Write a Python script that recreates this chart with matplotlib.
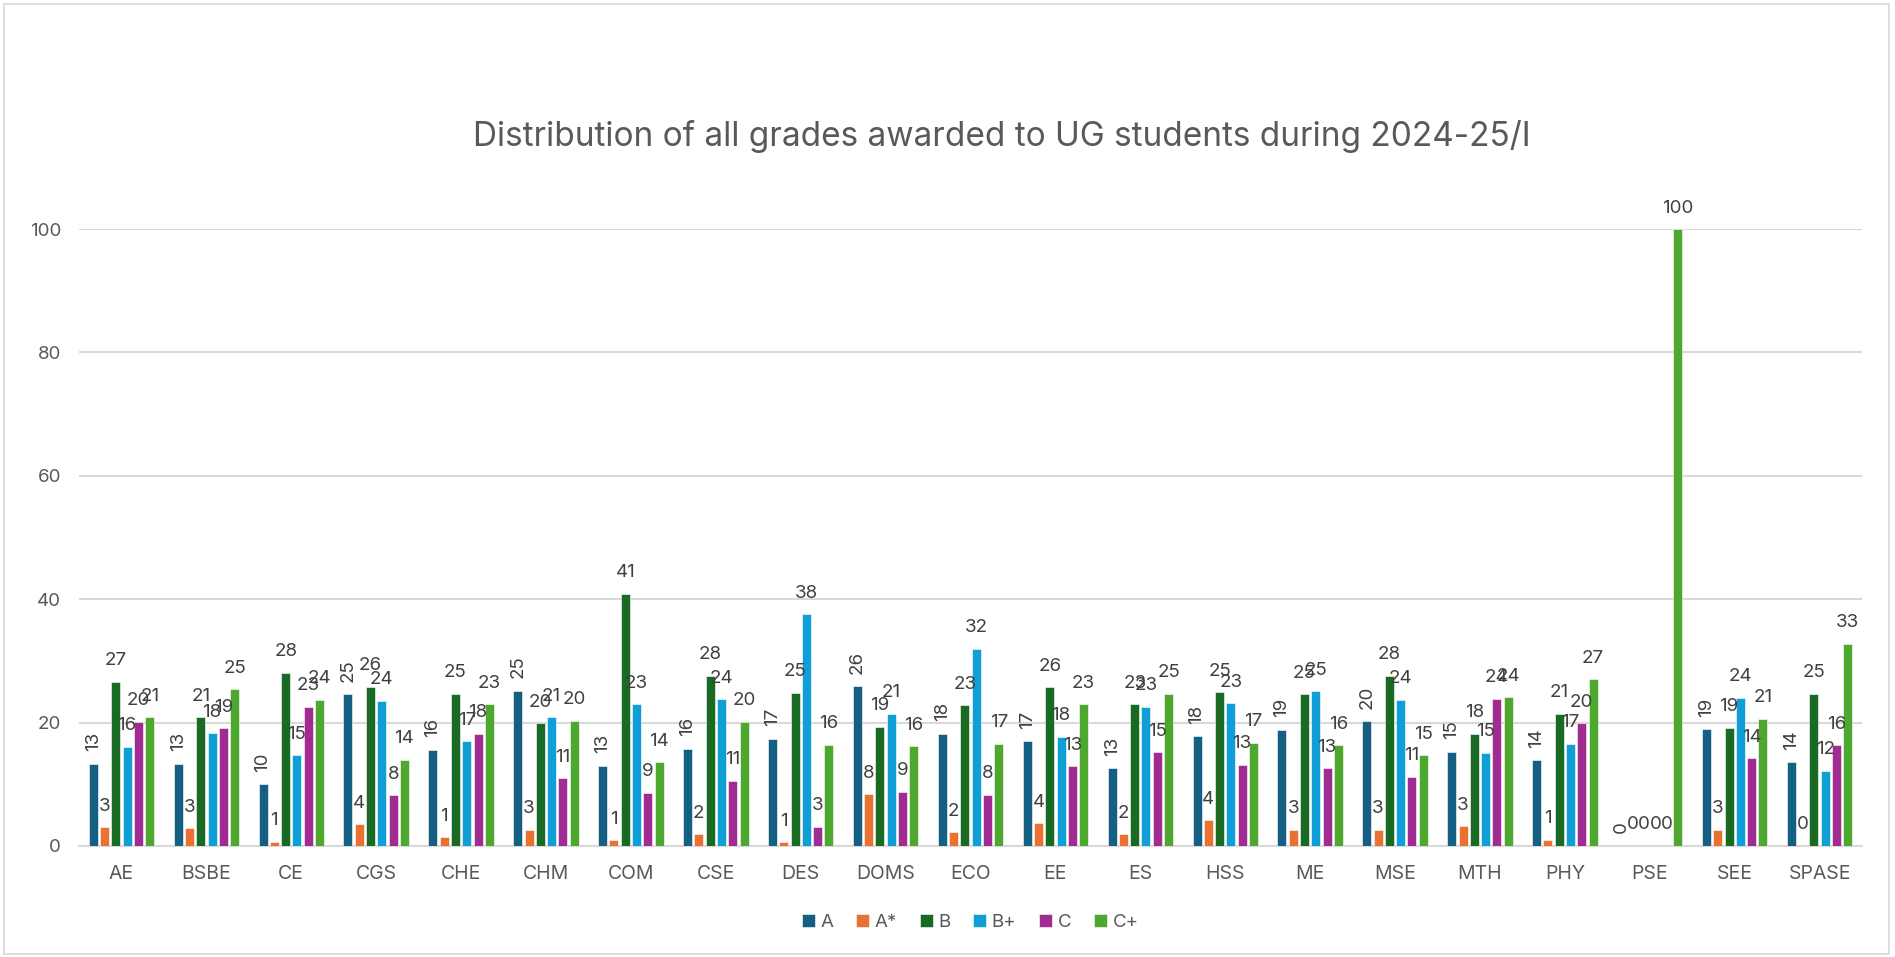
import numpy as np
import matplotlib.pyplot as plt
from matplotlib.patches import Rectangle

# Данные
departments = ["AE", "BSBE", "CE", "CGS", "CHE", "CHM", "COM", "CSE", "DES", "DOMS", "ECO",
               "EE", "ES", "HSS", "ME", "MSE", "MTH", "PHY", "PSE", "SEE", "SPASE"]
grades = ["A", "A*", "B", "B+", "C", "C+"]

grade_A = [13.3, 13.3, 10.0, 24.6, 15.6, 25.2, 13.0, 15.8, 17.4, 25.9, 18.2,
           17.0, 12.6, 17.8, 18.8, 20.2, 15.3, 13.9, 0, 18.9, 13.6]
grade_A_star = [3.0, 2.9, 0.7, 3.5, 1.4, 2.6, 0.9, 1.9, 0.6, 8.4, 2.2,
                3.7, 1.9, 4.2, 2.6, 2.6, 3.2, 1.0, 0, 2.6, 0]
grade_B = [26.6, 20.9, 28.1, 25.8, 24.7, 19.9, 40.9, 27.6, 24.8, 19.3, 22.8,
           25.7, 23.0, 24.9, 24.6, 27.6, 18.2, 21.4, 0, 19.2, 24.7]
grade_B_plus = [16.1, 18.3, 14.7, 23.5, 17.0, 20.9, 23.0, 23.8, 37.6, 21.4, 32.0,
                17.7, 22.6, 23.1, 25.1, 23.7, 15.1, 16.6, 0, 24.0, 12.2]
grade_C = [20.1, 19.1, 22.6, 8.2, 18.2, 11.0, 8.6, 10.6, 3.1, 8.8, 8.3,
           12.9, 15.2, 13.2, 12.6, 11.2, 23.9, 19.9, 0, 14.2, 16.3]
grade_C_plus = [20.9, 25.4, 23.7, 14.0, 23.0, 20.3, 13.6, 20.1, 16.4, 16.2, 16.6,
                23.0, 24.7, 16.7, 16.3, 14.7, 24.1, 27.0, 100, 20.6, 32.8]

series = [grade_A, grade_A_star, grade_B, grade_B_plus, grade_C, grade_C_plus]
colors = ["#156082", "#E97132", "#196B24", "#0F9ED5", "#A02B93", "#4EA72E"]

plt.rcParams['font.family'] = ['Inter', 'DejaVu Sans']
text_color = "#595959"

fig = plt.figure(figsize=(18.95, 9.57), dpi=100)
ax = fig.add_axes([0.0417, 0.116, 0.9409, 0.6447])

x = np.arange(len(departments))
step = 0.133
width = 0.106

for i, (values, color) in enumerate(zip(series, colors)):
    pos = x + (i - 2.5) * step
    ax.bar(pos, values, width=width, color=color, label=grades[i], zorder=3,
           edgecolor="white", linewidth=0.4)
    for px, v in zip(pos, values):
        ax.annotate(f"{v:.0f}", (px, v), xytext=(0, 9), textcoords="offset points",
                    ha="center", va="bottom", fontsize=13.5, color="#404040",
                    rotation=90 if i == 0 else 0, annotation_clip=False, zorder=4)

ax.set_xlim(-0.5, len(departments) - 0.5)
ax.set_ylim(0, 100)
ax.set_yticks([0, 20, 40, 60, 80, 100])
ax.set_xticks(x)
ax.set_xticklabels(departments)
ax.tick_params(axis="both", length=0, labelsize=14, labelcolor=text_color)
ax.tick_params(axis="y", labelsize=13.5, pad=13)
ax.tick_params(axis="x", pad=14)
ax.grid(axis="y", color="#D9D9D9", linewidth=1.5, zorder=0)
for side in ["top", "right", "left"]:
    ax.spines[side].set_visible(False)
ax.spines["bottom"].set_color("#D9D9D9")
ax.spines["bottom"].set_linewidth(1.5)

fig.text(0.5285, 0.857, "Distribution of all grades awarded to UG students during 2024-25/I",
         ha="center", va="center", fontsize=24, color=text_color)

fig.legend(loc="center", bbox_to_anchor=(0.512, 0.036), ncol=6, frameon=False,
           fontsize=13.5, labelcolor=text_color, handlelength=0.7, handleheight=0.7,
           handletextpad=0.3, columnspacing=1.2)

fig.patches.append(Rectangle((0.002, 0.003), 0.995, 0.993, transform=fig.transFigure,
                             fill=False, edgecolor="#D9D9D9", linewidth=1.2))

fig.savefig("out.png", dpi=100)
